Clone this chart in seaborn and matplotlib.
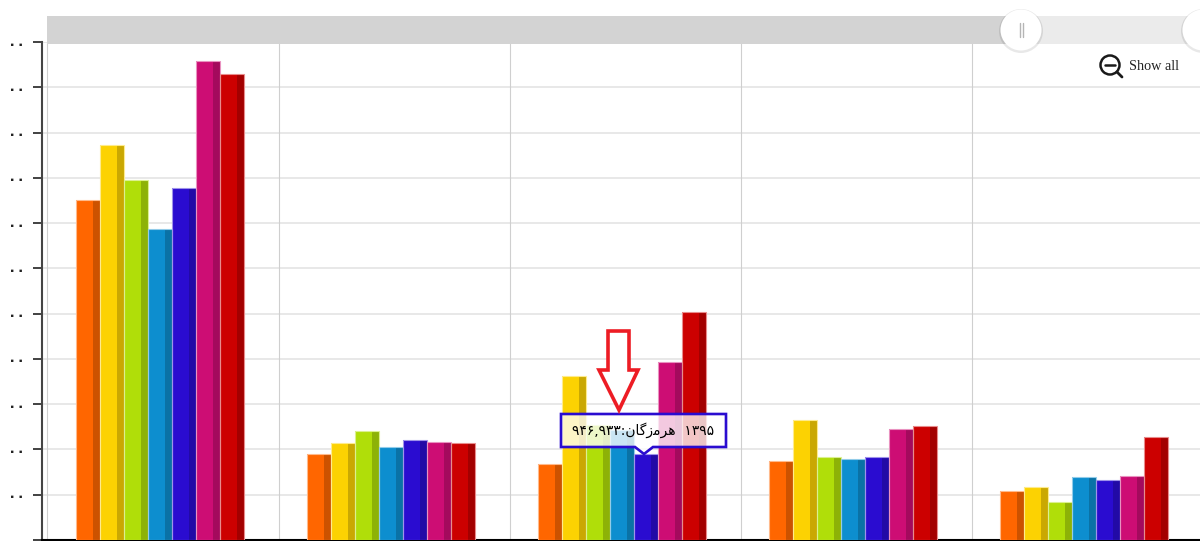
#!/usr/bin/python3

import matplotlib
matplotlib.use('Agg')
import matplotlib.pyplot as plt
from matplotlib.colors import to_rgb
from matplotlib.patches import Circle, Polygon, Rectangle
import numpy as np
import pandas as pd
import seaborn as sns

# x labels are cropped away in the reference, only the third group is named there
categories = ['a', 'b', 'hormozgan', 'd', 'e']
seriesNames = ['1391', '1392', '1393', '1394', '1395', '1396', '1397']
seriesColors = ['#FF6600', '#FCD202', '#B0DE09', '#0D8ECF', '#2A0CD0', '#CD0D74', '#CC0000']

values1391 = [3757000, 950000, 840000, 873000, 536000]
values1392 = [4365000, 1072000, 1812000, 1326000, 591000]
values1393 = [3978000, 1204000, 1271000, 917000, 420000]
values1394 = [3436000, 1028000, 1215000, 895000, 696000]
values1395 = [3890000, 1105000, 946933, 917000, 663000]
values1396 = [5293000, 1088000, 1967000, 1221000, 707000]
values1397 = [5149000, 1072000, 2519000, 1265000, 1133000]

yTicks = list(range(0, 5500001, 500000))
yTickLabel = '۰۰'

# hormozgan as presentation forms in visual order, matplotlib does no arabic shaping
tooltipText = '۹۴۶,۹۳۳:\uFEE5\uFE8E\uFB94\uFEAF\uFEE3\uFEAE\uFEEB  ۱۳۹۵'

W, H = 1200, 541
GRID = '#e4e4e4'
GROUP_PX = 231
FIRST_PX = 159.8


def darker(color, k=0.8):
    return tuple(c * k for c in to_rgb(color))


def lighter(color, k=0.55):
    return tuple(c + (1 - c) * k for c in to_rgb(color))


df = pd.DataFrame({'category': categories, '1391': values1391, '1392': values1392,
                   '1393': values1393, '1394': values1394, '1395': values1395,
                   '1396': values1396, '1397': values1397})
df = df.melt(id_vars='category', var_name='series', value_name='value')

sns.set_theme(style='white')
fig = plt.figure(figsize=(W / 100, H / 100), dpi=100)
ax = fig.add_axes([42 / W, 1 / H, 1 - 42 / W, 497.8 / H])

sns.barplot(data=df, x='category', y='value', hue='series', order=categories,
            hue_order=seriesNames, palette=seriesColors, width=0.727, gap=0,
            saturation=1, legend=False, ax=ax, zorder=3)

# darker side of each bar, then a lighter rim over both
for container, color in zip(ax.containers, seriesColors):
    for bar in container:
        bar.set_edgecolor('none')
        x, w, h = bar.get_x(), bar.get_width(), bar.get_height()
        ax.add_patch(Rectangle((x + 0.73 * w, 0), 0.27 * w, h, facecolor=darker(color),
                               edgecolor='none', zorder=3.5))
        ax.add_patch(Rectangle((x, 0), w, h, facecolor='none', edgecolor=lighter(color),
                               linewidth=0.8, zorder=3.6))

ax.set_xlim((42 - FIRST_PX) / GROUP_PX, (W - FIRST_PX) / GROUP_PX)
ax.set_ylim(0, 5500000)
ax.set_xlabel('')
ax.set_ylabel('')
ax.set_xticks([])
ax.set_yticks(yTicks)
ax.set_yticklabels([])
ax.tick_params(axis='y', left=True, length=6.5, width=1.3, color='#333333')
ax.set_axisbelow(True)
ax.grid(True, axis='y', color=GRID, linewidth=1.2)
for x in [-0.487] + list(np.arange(len(categories) - 1) + 0.516):
    ax.axvline(x, color='#cfcfcf', linewidth=0.8, zorder=1)

# the visible end of each cropped tick label
trans = ax.get_yaxis_transform()
labelX = (16.5 - 42) / (W - 42)
for t in yTicks[1:]:
    ax.annotate(yTickLabel, (labelX, t), xycoords=trans, xytext=(0, -1.8), textcoords='offset points',
                family='DejaVu Sans', fontweight='bold', fontsize=10, color='#222222',
                ha='center', va='center', annotation_clip=False)

sns.despine(ax=ax, top=True, right=True)
ax.spines['left'].set_color('#444444')
ax.spines['left'].set_linewidth(1.5)
ax.spines['bottom'].set_color('black')
ax.spines['bottom'].set_linewidth(1.5)

# everything that sits on top of the plot is placed in pixels
top = fig.add_axes([0, 0, 1, 1], zorder=5)
top.set_xlim(0, W)
top.set_ylim(H, 0)
top.axis('off')
top.patch.set_alpha(0)

# scrollbar
top.add_patch(Rectangle((47, 16), 1021 - 47, 27.5, facecolor='#d3d3d3', edgecolor='none'))
top.add_patch(Rectangle((1021, 16), W - 1021, 27.5, facecolor='#ebebeb', edgecolor='none'))
for cx in [1021, 1203]:
    top.add_patch(Circle((cx, 31), 22, facecolor='black', alpha=0.09, edgecolor='none'))
    top.add_patch(Circle((cx, 30), 20.5, facecolor='white', edgecolor='none'))
for lx in [1019.5, 1023]:
    top.plot([lx, lx], [23, 37], color='#b5b5b5', linewidth=1)

# show all button
top.add_patch(Circle((1110, 65), 9.5, facecolor='none', edgecolor='#1a1a1a', linewidth=1.8))
top.plot([1105, 1115], [65, 65], color='#1a1a1a', linewidth=1.8)
top.plot([1117, 1122], [72, 77], color='#1a1a1a', linewidth=2)
top.text(1129, 67, 'Show all', family='Liberation Serif', fontsize=10.3, color='#222222',
         ha='left', va='center')

# tooltip
tipColor = seriesColors[4]
tipShape = [(561, 414), (726, 414), (726, 447), (653, 447), (644, 454), (635, 447), (561, 447)]
top.add_patch(Polygon(tipShape, closed=True, facecolor='white', alpha=0.78, edgecolor='none'))
top.add_patch(Polygon(tipShape, closed=True, facecolor='none', edgecolor=tipColor,
                      linewidth=1.9, joinstyle='miter'))
top.text(643.5, 430, tooltipText, family='DejaVu Sans', fontsize=10, color='black',
         ha='center', va='center')

# red arrow
arrow = [(608, 331), (629, 331), (629, 370), (638, 370), (619, 410), (599, 370), (608, 370)]
top.add_patch(Polygon(arrow, closed=True, facecolor='white', edgecolor='#ED1C24',
                      linewidth=2.6, joinstyle='miter'))

fig.savefig('out.png', dpi=100)
